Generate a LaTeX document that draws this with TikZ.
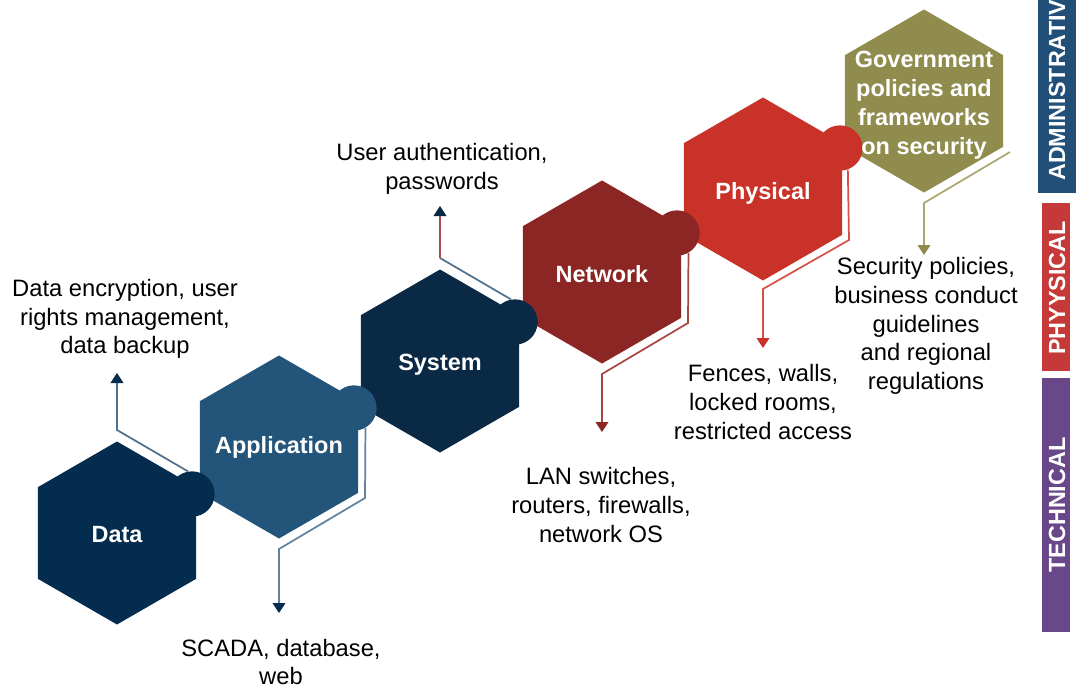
\documentclass[tikz,border=0pt]{standalone}
\usepackage{fontspec}
\setmainfont{Liberation Sans}
\usetikzlibrary{shapes.geometric,arrows.meta,calc}

\definecolor{datablue}{RGB}{4,44,78}
\definecolor{appblue}{RGB}{35,85,122}
\definecolor{sysblue}{RGB}{10,41,69}
\definecolor{netred}{RGB}{139,38,36}
\definecolor{physred}{RGB}{200,50,40}
\definecolor{govolive}{RGB}{143,140,78}
\definecolor{datawire}{RGB}{80,112,140}
\definecolor{appwire}{RGB}{95,130,160}
\definecolor{syswire}{RGB}{165,80,75}
\definecolor{netwire}{RGB}{170,70,65}
\definecolor{physwire}{RGB}{215,80,70}
\definecolor{govwire}{RGB}{170,168,110}
\definecolor{adminbar}{RGB}{33,79,120}
\definecolor{physbar}{RGB}{197,57,56}
\definecolor{techbar}{RGB}{104,72,136}

\begin{document}
\begin{tikzpicture}[x=0.75pt, y=-0.75pt,
	hexa/.style={regular polygon, regular polygon sides=6, rotate=30,
		minimum size=137.25pt, inner sep=0pt, outer sep=0pt},
	knob/.style={circle, minimum size=34pt, inner sep=0pt},
	hexlabel/.style={text=white, align=center, inner sep=0pt,
		font=\fontsize{17.6}{21.8}\selectfont\bfseries},
	note/.style={align=center, inner sep=0pt,
		font=\fontsize{17.8}{21.6}\selectfont},
	bartext/.style={text=white, rotate=90, inner sep=0pt,
		font=\fontsize{17.5}{20}\selectfont\bfseries},
	wire/.style={line width=1.3pt},
	tip/.style={-{Triangle[width=9.5pt,length=7.5pt,color=#1]}}]
	\useasboundingbox (0,0) rectangle (1076,689);
	\node[hexa, fill=datablue] (1) at (117,533) {};
	\node[hexa, fill=appblue] (2) at (279,447) {};
	\node[hexa, fill=sysblue] (3) at (440,361) {};
	\node[hexa, fill=netred] (4) at (602,272) {};
	\node[hexa, fill=physred] (5) at (763,189) {};
	\node[hexa, fill=govolive] (6) at (924,101) {};
	\node[knob, fill=datablue] (c1) at ($(1)+(75,-39)$) {};
	\node[knob, fill=appblue] (c2) at ($(2)+(75,-39)$) {};
	\node[knob, fill=sysblue] (c3) at ($(3)+(75,-39)$) {};
	\node[knob, fill=netred] (c4) at ($(4)+(75,-39)$) {};
	\node[knob, fill=physred] (c5) at ($(5)+(77,-41)$) {};
	\node[hexlabel] (l1) at (117,535) {Data};
	\node[hexlabel] (l2) at (279,447) {Application};
	\node[hexlabel] (l3) at (440,365) {System};
	\node[hexlabel] (l4) at (602,274) {Network};
	\node[hexlabel] (l5) at (763,193) {Physical};
	\node[hexlabel] (l6) at (924,105) {Government\\policies and\\frameworks\\on security};
	\node[note] (t1) at (125,319) {Data encryption, user\\rights management,\\data backup};
	\node[note] (t2) at (281,662) {SCADA, database,\\web};
	\node[note] (t3) at (442,169) {User authentication,\\passwords};
	\node[note] (t4) at (601,505) {LAN switches,\\routers, firewalls,\\network OS};
	\node[note] (t5) at (763,402) {Fences, walls,\\locked rooms,\\restricted access};
	\node[note] (t6) at (926,326) {Security policies,\\business conduct\\guidelines\\and regional\\regulations};
	\coordinate (a1) at (117,373);
	\coordinate (a2) at (279,613);
	\coordinate (b3) at ($(3)+(0,-103)$);
	\coordinate (a3) at (440,206);
	\coordinate (a4) at (602,432);
	\coordinate (a5) at (763,348);
	\coordinate (s6) at ($(6)+(86,51)$);
	\coordinate (a6) at (924,255);
	\draw[wire, draw=datawire, tip=datablue] (c1.100) -- ($(1)+(0,-103)$) -- (a1);
	\draw[wire, draw=appwire, tip=datablue] (c2.-60) -- ($(2)+(86,51)$) -- ($(2)+(0,102)$) -- (a2);
	\draw[wire, draw=datawire] (c3.100) -- (b3);
	\draw[wire, draw=syswire, tip=sysblue] (b3) -- (a3);
	\draw[wire, draw=netwire, tip=netred] (c4.-60) -- ($(4)+(86,51)$) -- ($(4)+(0,102)$) -- (a4);
	\draw[wire, draw=physwire, tip=physred] (c5.-70) -- ($(5)+(86,51)$) -- ($(5)+(0,100)$) -- (a5);
	\draw[wire, draw=govwire, tip=govolive] (s6) -- ($(6)+(0,102)$) -- (a6);
	\fill[adminbar] (1038,0) rectangle (1076,193);
	\fill[physbar] (1042,203) rectangle (1070,371);
	\fill[techbar] (1042,378) rectangle (1070,632);
	\node[bartext, anchor=west] (r1) at (1057,181) {ADMINISTRATIVE};
	\node[bartext] (r2) at (1057,288) {PHYYSICAL};
	\node[bartext] (r3) at (1057,505) {TECHNICAL};
\end{tikzpicture}
\end{document}
